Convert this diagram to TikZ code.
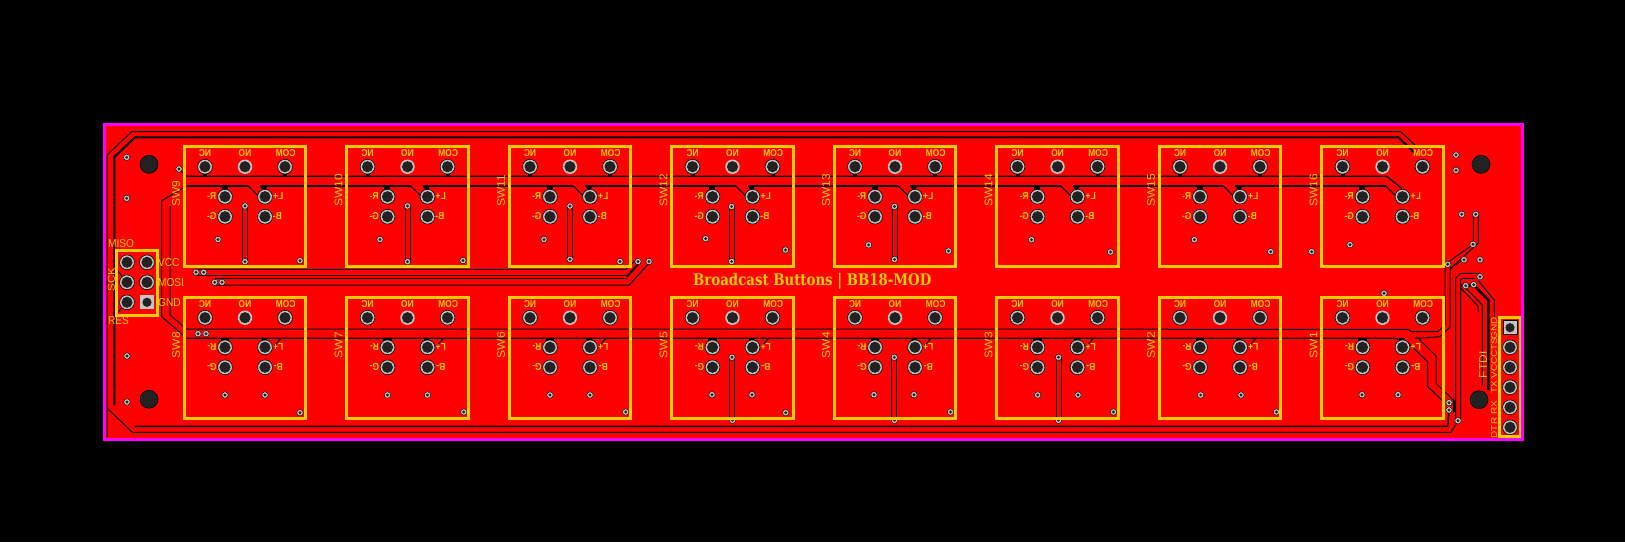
\documentclass[tikz,border=0pt]{standalone}
\usepackage{fontspec}
\setmainfont{Liberation Sans}
\newfontfamily\slabfont{DejaVu Serif}
\definecolor{copper}{HTML}{FF0000}
\definecolor{silk}{HTML}{FFCC00}
\definecolor{outlinec}{HTML}{FF00FF}
\definecolor{ringc}{HTML}{C4C4C4}
\definecolor{holec}{HTML}{222222}
\tikzset{
  tr/.style={draw=black,line width=1pt,line join=round},
  trb/.style={draw=black,line width=2pt,line join=round},
  silkbox/.style={draw=silk,line width=3pt,fill=none,miter limit=10},
  silktxt/.style={text=silk,inner sep=0pt,font=\fontsize{12}{13}\selectfont,transform shape,xscale=.92},
  isptxt/.style={text=silk,inner sep=0pt,font=\fontsize{11.5}{13}\selectfont,transform shape,xscale=.88},
  tinytxt/.style={text=silk,inner sep=0pt,font=\fontsize{10}{11}\selectfont,transform shape,xscale=.82},
  padtxt/.style={text=silk,inner sep=0pt,font=\fontsize{10}{10}\selectfont\bfseries,transform shape,xscale=-0.85},
  padtxtb/.style={text=silk,inner sep=0pt,font=\fontsize{10}{10}\selectfont\bfseries,transform shape,xscale=-0.85,yscale=-1},
  titletxt/.style={text=silk,inner sep=0pt,font=\fontsize{16}{17}\selectfont\slabfont\bfseries,transform shape,xscale=0.833}
}
\newcommand{\padat}[2]{%
  \fill[ringc,draw=black,line width=.6pt] (#1,#2) circle (7.4);
  \fill[holec] (#1,#2) circle (5.6);}
\newcommand{\padnoedge}[2]{%
  \fill[ringc] (#1,#2) circle (7.2);
  \fill[holec] (#1,#2) circle (5.6);}
\newcommand{\viaat}[2]{%
  \fill[ringc,draw=black,line width=.4pt] (#1,#2) circle (3.2);
  \fill[holec] (#1,#2) circle (1.6);}
\begin{document}
\begin{tikzpicture}[x=1pt,y=-1pt]
\useasboundingbox (0,0) rectangle (1625,542);
\fill[black] (0,0) rectangle (1625,542);
\fill[copper] (104.7,124.7) rectangle (1522.5,439);
% ---------- long outer traces
\draw[tr] (1415,145) -- (1400.7,131.7) -- (131.7,131.7) -- (107,155) -- (107,437);
\draw[tr] (107,408) -- (132.3,432.3) -- (1451,432.3) -- (1458,420.7);
\draw[trb] (1415,153) -- (1398.3,137.3) -- (135,137.3) -- (114.3,157) -- (114.3,405);
\draw[tr,line width=1.4pt] (134.3,426.3) -- (1447.7,426.3) -- (1449,410);
% ---------- top-row buses
\draw[tr,line width=1.3pt] (179,169) -- (186.7,176.3) -- (1386.7,176.3) -- (1401.7,188.3);
\foreach \k in {0,...,7}{
  \pgfmathsetmacro{\L}{184.3+162.5*\k}
  \pgfmathsetmacro{\S}{\k==0 ? 186.7 : \L-162.5+75.7}
  \draw[trb] (\S,186) -- (\L+64,186);
  \draw[tr] (\L+64,186) -- (\L+74,196);
  \fill[black] (\L+37.5,186) rectangle (\L+43.5,191);
  \fill[black] (\L+18.7,172) rectangle (\L+22.7,176.3);
  \ifnum\k<7
    \fill[black] (\L+75.7,186) -- (\L+83,186) -- (\L+81,190.5) -- (\L+79,190.5) -- cycle;
    \fill[black] (\L+98.7,172) rectangle (\L+102.7,176.3);
  \fi
}
\draw[tr] (186.7,186) -- (161.7,200.7) -- (161.7,316.7) -- (186.7,338.2);
\draw[tr] (170,206) -- (170,315) -- (186.7,329);
% ---------- bottom-row buses
\draw[tr] (186.7,329) -- (1408.3,329.3) -- (1411,331.5) -- (1438,331.5) -- (1445,325) -- (1445,268);
\draw[tr,line width=1.3pt] (186.7,338.2) -- (1396.7,338.3) -- (1398.3,340);
\draw[tr] (1415,338.5) -- (1440,336.7) -- (1450,327) -- (1450,272);
\foreach \k in {0,...,7}{
  \pgfmathsetmacro{\L}{184.3+162.5*\k}
  \fill[black] (\L+36.5,338) rectangle (\L+45,342);
  \fill[black] (\L+76.7,338) -- (\L+83.4,338) -- (\L+81,342) -- (\L+78,342) -- cycle;
  \ifnum\k<7 \draw[tr] (\L+89,347) -- (\L+96.5,338.5); \fi
}
% ---------- bottom-right diagonals
\draw[tr] (1416.7,336.7) -- (1436,356) -- (1436,383.3) -- (1453.3,400) -- (1453.3,413);
\draw[tr] (1406.7,341.7) -- (1427.7,361.7) -- (1427.7,386.7) -- (1445,403);
\fill[black] (1452.5,400) rectangle (1454.5,412);
% ---------- right-side verticals
\draw[tr] (1473.3,214.3) -- (1473.3,244.3) -- (1445,264.3);
\draw[tr] (1478.3,214.3) -- (1478.3,243) -- (1450,269) -- (1450,272);
\draw[tr] (1450,268) -- (1464,259.7);
\draw[tr] (1455.7,418) -- (1455.7,278.3) -- (1460.7,273.3) -- (1480,273.3);
\draw[tr] (1460.7,418) -- (1460.7,280) -- (1462,278.3) -- (1475,278.3);
\draw[trb,line width=2.5pt] (1461,285.7) -- (1474,285.7) -- (1488.3,300) -- (1488.3,390);
\draw[tr] (1465.7,288) -- (1482.3,305) -- (1482.3,385);
\draw[tr] (1460.7,288) -- (1478,306) -- (1478,312);
\draw[tr] (1478.3,280.7) -- (1494.3,300) -- (1494.3,318);
% ---------- ISP buses
\draw[tr] (196,269.3) -- (626,269.3) -- (637,259);
\draw[tr] (196,275.3) -- (627.7,275.3);
\draw[trb] (627,276.5) -- (640,262);
\draw[tr] (214.7,278.7) -- (627,278.7);
\draw[tr] (214.7,285) -- (629.3,285) -- (648.3,264);
% ISP pin stubs
\draw[tr] (117,270) -- (127,282.3);
\draw[tr] (127,302.3) -- (118,312);
% ---------- loops
\foreach \x/\a/\b in {245/206/261.7,407.5/206/261.7,570/206/261.7,731.6/206.5/261.5,894.5/206.5/259.4,
                      732/357.3/420.3,894.3/357.3/420.3,1058.5/357.3/420.3}{
  \draw[tr] (\x-2.5,\a) -- (\x-2.5,\b);
  \draw[tr] (\x+2.5,\a) -- (\x+2.5,\b);
}
% ---------- vias
\foreach \x/\y in {126.7/157.3,126.7/198.3,179/169,218/239.5,300/260.7,380/239.5,463/260.5,544/239.5,620/261.5,
  638/261.5,649/261.5,705.6/238.7,785.5/250,868.6/244.9,948.5/251,1031.5/239.7,1110.4/252,1194.4/239.7,
  1270.7/251.7,1311.7/251.7,1350/244.7,
  245/206,245/261.7,407.5/206,407.5/261.7,570/206,570/259.3,731.6/206.5,731.6/261.5,894.5/206.5,894.5/259.4,
  196/272.3,203.7/272.3,214.7/282.3,222/282.3,198/333.7,206/333.7,127/356,127/402,
  225/395,265/395,300/412.7,387.5/395,427.5/395,463.8/412,550/395,590/395,625.7/412,
  712/394.7,752/394.7,785.7/412.7,874/394.7,914/394.7,950.5/412,1037.7/395,1078/395,1113.5/412,
  1200.6/395,1241/395,1276.4/412,1362/394.7,1398/394.7,1384/293.3,
  732/357.3,732.5/420.3,894.3/357.3,894.5/420.3,1058.5/357.3,1058.5/420.3,
  1456/155,1456/170.3,1461.7/214.3,1475.7/214.3,1473/244.3,1480/259.7,1464/259.7,1447.7/264.3,
  1480/276.7,1465.7/285.7,1473.7/284.7,1449/402.7,1449/410,1458/420.7}{
  \viaat{\x}{\y}
}
% ---------- mounting holes
\foreach \x/\y in {149/164.3,149/399.3,1481/164.3,1479/399.7}{
  \fill[holec,draw=black,line width=.6pt] (\x,\y) circle (9);
}
% ---------- switches
\foreach \k/\top/\bot in {0/SW9/SW8,1/SW10/SW7,2/SW11/SW6,3/SW12/SW5,4/SW13/SW4,5/SW14/SW3,6/SW15/SW2,7/SW16/SW1}{
  \pgfmathsetmacro{\L}{184.3+162.5*\k}
  \pgfmathsetmacro{\R}{\L+121.4}
  % top row
  \padat{\L+20.7}{166.7} \padnoedge{\L+60.7}{166.7} \padat{\L+100.7}{166.7}
  \padat{\L+40.7}{196.7} \padat{\L+80.7}{196.7} \padat{\L+40.7}{216.7} \padat{\L+80.7}{216.7}
  \draw[silkbox] (\L,146) rectangle (\R,266.7);
  \node[silktxt,rotate=90,anchor=west] (tlabel\k) at (\L-8.3,207) {\top};
  \node[padtxt] (tnc\k) at (\L+20.7,153) {NC};
  \node[padtxt] (tno\k) at (\L+60.7,153) {NO};
  \node[padtxt] (tcom\k) at (\L+101.3,153) {COM};
  \node[padtxt] (tr\k) at (\L+27.4,196) {R-};
  \node[padtxt] (tg\k) at (\L+27.4,216) {G-};
  \node[padtxt] (tl\k) at (\L+94,196) {L+};
  \node[padtxt] (tb\k) at (\L+93,216) {B-};
  % bottom row
  \padat{\L+20.7}{317.7} \padnoedge{\L+60.7}{317.7} \padat{\L+100.7}{317.7}
  \padat{\L+40.7}{347.3} \padat{\L+80.7}{347.3} \padat{\L+40.7}{367.3} \padat{\L+80.7}{367.3}
  \draw[silkbox] (\L,297.3) rectangle (\R,418.3);
  \node[silktxt,rotate=90,anchor=west] (blabel\k) at (\L-8.3,358.3) {\bot};
  \node[padtxt] (bnc\k) at (\L+20.7,304.3) {NC};
  \node[padtxt] (bno\k) at (\L+60.7,304.3) {NO};
  \node[padtxt] (bcom\k) at (\L+101.3,304.3) {COM};
  \node[padtxtb] (br\k) at (\L+27.7,347) {R-};
  \node[padtxtb] (bg\k) at (\L+27.7,367) {G-};
  \node[padtxtb] (bl\k) at (\L+94,347) {L+};
  \node[padtxtb] (bb\k) at (\L+94,367) {B-};
}
% ---------- ISP header
\padat{127}{262.3} \padat{147}{262.3} \padat{127}{282.3} \padat{147}{282.3} \padat{127}{302.3}
\fill[ringc] (140,295.3) rectangle (154,309.3);
\fill[holec] (147,302.3) circle (4.6);
\draw[silkbox] (116,250) rectangle (157.3,315);
\node[isptxt,anchor=west] (miso) at (108,243.3) {MISO};
\node[isptxt,anchor=west] (vcc) at (158,262.5) {VCC};
\node[isptxt,anchor=west] (mosi) at (158,282.7) {MOSI};
\node[isptxt,anchor=west] (gnd) at (158,302.7) {GND};
\node[isptxt,anchor=west] (res) at (108,320.7) {RES};
\node[isptxt,rotate=90,anchor=west] (sck) at (111.3,291.7) {SCK};
% ---------- FTDI header
\fill[ringc,draw=black,line width=.6pt] (1503,320.7) rectangle (1517,334.7);
\fill[holec] (1510,327.7) circle (4.6);
\foreach \y in {347.3,367.3,387.3,407.3,427.3}{ \padat{1510}{\y} }
\draw[silkbox] (1499,317) rectangle (1520,436.7);
\node[silktxt,rotate=90,anchor=west] (ftdi) at (1483,378.5) {FTDI};
\node[tinytxt,rotate=90] (ngnd) at (1494,328.5) {GND};
\node[tinytxt,rotate=90] (ncts) at (1494,347.5) {CTS};
\node[tinytxt,rotate=90] (nvcc) at (1494,367.5) {VCC};
\node[tinytxt,rotate=90] (ntx) at (1494,387.3) {TX};
\node[tinytxt,rotate=90] (nrx) at (1494,407.3) {RX};
\node[tinytxt,rotate=90] (ndtr) at (1494,428) {DTR};
% ---------- title
\node[titletxt,anchor=west] (title) at (693,281) {Broadcast Buttons | BB18-MOD};
% ---------- board outline
\draw[outlinec,line width=3pt] (104.7,124.7) rectangle (1522.5,439);
\end{tikzpicture}
\end{document}
